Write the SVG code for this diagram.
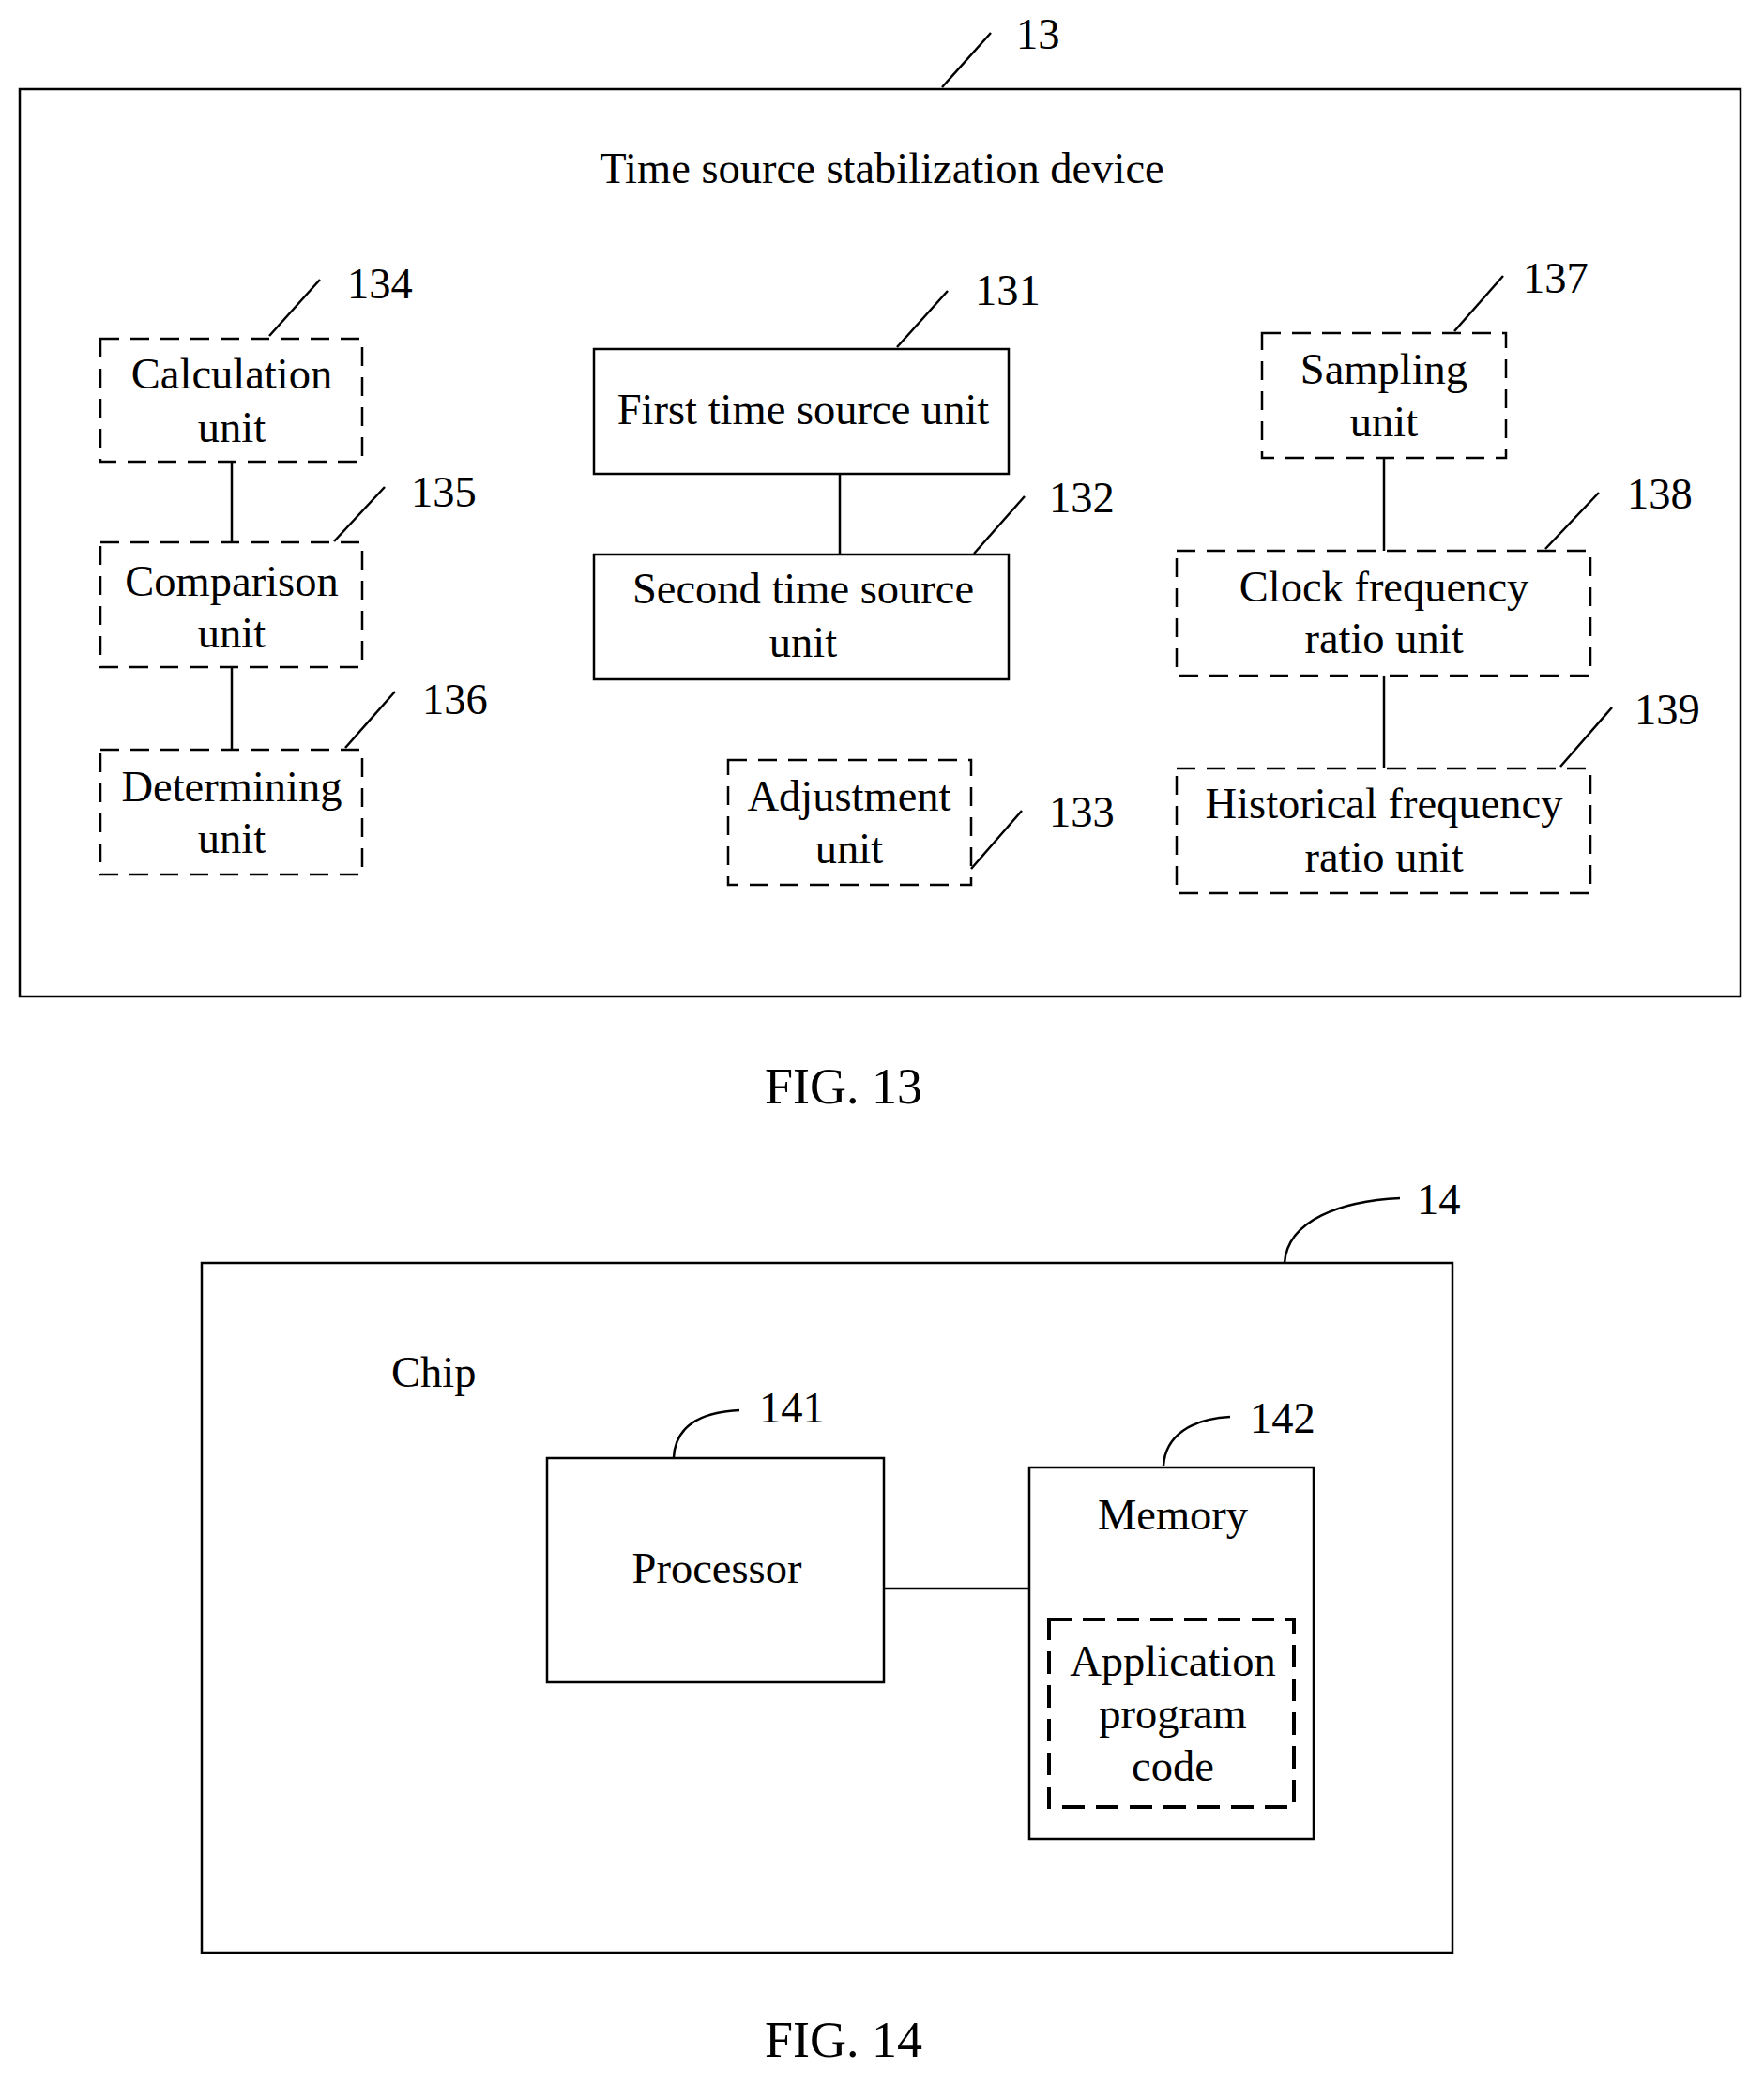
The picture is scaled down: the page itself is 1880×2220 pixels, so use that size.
<svg xmlns="http://www.w3.org/2000/svg" width="1880" height="2220" viewBox="0 0 1880 2220">
<style>
text{font-family:"Liberation Serif","Times New Roman",serif;font-size:46.5px;fill:#000}
.c{text-anchor:middle}
.fig{font-size:54px}
.s{fill:#fff;stroke:#000;stroke-width:2.5}
.d{fill:#fff;stroke:#000;stroke-width:2.5;stroke-dasharray:20 12}
.d2{fill:none;stroke:#000;stroke-width:4;stroke-dasharray:24 12}
.l{fill:none;stroke:#000;stroke-width:2.5}
</style>
<rect width="1880" height="2220" fill="#fff"/>
<g id="device13">
<rect class="s" x="21" y="95" width="1834" height="967"/>
<line class="l" x1="1004" y1="93" x2="1056" y2="35"/>
<text x="1083" y="52">13</text>
<text class="c" x="940" y="195">Time source stabilization device</text>
</g>
<g id="connectors">
<line class="l" x1="247" y1="492" x2="247" y2="578"/>
<line class="l" x1="247" y1="711" x2="247" y2="799"/>
<line class="l" x1="895" y1="505" x2="895" y2="591"/>
<line class="l" x1="1475" y1="488" x2="1475" y2="587"/>
<line class="l" x1="1475" y1="720" x2="1475" y2="819"/>
<line class="l" x1="942" y1="1693" x2="1097" y2="1693"/>
</g>
<g id="n134"><rect class="d" x="107" y="361" width="279" height="131"/><text class="c" x="247" y="414">Calculation</text><text class="c" x="247" y="471">unit</text><line class="l" x1="287" y1="358" x2="341" y2="298"/><text x="370" y="318">134</text></g>
<g id="n135"><rect class="d" x="107" y="578" width="279" height="133"/><text class="c" x="247" y="635">Comparison</text><text class="c" x="247" y="690">unit</text><line class="l" x1="356" y1="577" x2="410" y2="519"/><text x="438" y="540">135</text></g>
<g id="n136"><rect class="d" x="107" y="799" width="279" height="133"/><text class="c" x="247" y="854">Determining</text><text class="c" x="247" y="909">unit</text><line class="l" x1="368" y1="797" x2="421" y2="737"/><text x="450" y="761">136</text></g>
<g id="n131"><rect class="s" x="633" y="372" width="442" height="133"/><text class="c" x="856" y="452">First time source unit</text><line class="l" x1="956" y1="370" x2="1010" y2="310"/><text x="1039" y="325">131</text></g>
<g id="n132"><rect class="s" x="633" y="591" width="442" height="133"/><text class="c" x="856" y="643">Second time source</text><text class="c" x="856" y="700">unit</text><line class="l" x1="1038" y1="590" x2="1092" y2="529"/><text x="1118" y="546">132</text></g>
<g id="n133"><rect class="d" x="776" y="810" width="259" height="133"/><text class="c" x="905" y="864">Adjustment</text><text class="c" x="905" y="920">unit</text><line class="l" x1="1035" y1="926" x2="1089" y2="864"/><text x="1118" y="881">133</text></g>
<g id="n137"><rect class="d" x="1345" y="355" width="260" height="133"/><text class="c" x="1475" y="409">Sampling</text><text class="c" x="1475" y="465">unit</text><line class="l" x1="1550" y1="353" x2="1602" y2="294"/><text x="1623" y="312">137</text></g>
<g id="n138"><rect class="d" x="1254" y="587" width="441" height="133"/><text class="c" x="1475" y="641">Clock frequency</text><text class="c" x="1475" y="696">ratio unit</text><line class="l" x1="1647" y1="585" x2="1704" y2="525"/><text x="1734" y="542">138</text></g>
<g id="n139"><rect class="d" x="1254" y="819" width="441" height="133"/><text class="c" x="1475" y="872">Historical frequency</text><text class="c" x="1475" y="929">ratio unit</text><line class="l" x1="1663" y1="817" x2="1718" y2="754"/><text x="1742" y="772">139</text></g>
<text class="c fig" x="899" y="1176">FIG. 13</text>
<g id="chip14">
<rect class="s" x="215" y="1346" width="1333" height="735" style="fill:none"/>
<path class="l" d="M1369,1346 C1372,1300 1430,1280 1492,1277"/>
<text x="1510" y="1294">14</text>
<text x="417" y="1478">Chip</text>
</g>
<g id="n141"><rect class="s" x="583" y="1554" width="359" height="239"/><text class="c" x="764" y="1687">Processor</text><path class="l" d="M718,1553 C720,1520 745,1505 788,1503"/><text x="809" y="1516">141</text></g>
<g id="n142"><rect class="s" x="1097" y="1564" width="303" height="396"/><text class="c" x="1250" y="1630">Memory</text><path class="l" d="M1240,1562 C1242,1530 1270,1512 1311,1510"/><text x="1332" y="1527">142</text>
<rect class="d2" x="1118" y="1726" width="261" height="200"/><text class="c" x="1250" y="1786">Application</text><text class="c" x="1250" y="1842">program</text><text class="c" x="1250" y="1898">code</text></g>
<text class="c fig" x="899" y="2192">FIG. 14</text>
</svg>
